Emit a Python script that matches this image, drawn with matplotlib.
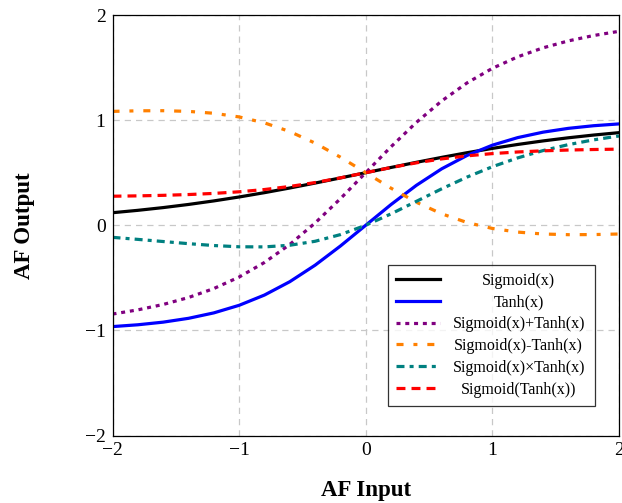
import matplotlib
matplotlib.use("Agg")
import matplotlib.pyplot as plt
from matplotlib.ticker import FuncFormatter

x = [-2.0, -1.8, -1.6, -1.4, -1.2, -1.0, -0.8, -0.6, -0.4, -0.2, 0.0,
     0.2, 0.4, 0.6, 0.8, 1.0, 1.2, 1.4, 1.6, 1.8, 2.0]

sigmoid = [0.1192, 0.1419, 0.1680, 0.1978, 0.2315, 0.2689, 0.3100, 0.3543, 0.4013, 0.4502, 0.5,
           0.5498, 0.5987, 0.6457, 0.6900, 0.7311, 0.7685, 0.8022, 0.8320, 0.8581, 0.8808]
tanh = [-0.9640, -0.9468, -0.9217, -0.8854, -0.8337, -0.7616, -0.6640, -0.5370, -0.3799, -0.1974, 0.0,
        0.1974, 0.3799, 0.5370, 0.6640, 0.7616, 0.8337, 0.8854, 0.9217, 0.9468, 0.9640]
sig_plus_tanh = [-0.8448, -0.8049, -0.7537, -0.6876, -0.6022, -0.4927, -0.3540, -0.1827, 0.0214, 0.2528, 0.5,
                 0.7472, 0.9786, 1.1827, 1.3540, 1.4927, 1.6022, 1.6876, 1.7537, 1.8049, 1.8448]
sig_minus_tanh = [1.0832, 1.0887, 1.0897, 1.0832, 1.0652, 1.0305, 0.9740, 0.8913, 0.7812, 0.6476, 0.5,
                  0.3524, 0.2188, 0.1087, 0.0260, -0.0305, -0.0652, -0.0832, -0.0897, -0.0887, -0.0832]
sig_times_tanh = [-0.1149, -0.1344, -0.1548, -0.1751, -0.1930, -0.2048, -0.2058, -0.1903, -0.1525, -0.0889, 0.0,
                  0.1085, 0.2274, 0.3467, 0.4582, 0.5568, 0.6407, 0.7103, 0.7669, 0.8124, 0.8491]
sig_of_tanh = [0.2761, 0.2795, 0.2846, 0.2921, 0.3029, 0.3183, 0.3398, 0.3689, 0.4062, 0.4508, 0.5,
               0.5492, 0.5938, 0.6311, 0.6602, 0.6817, 0.6971, 0.7079, 0.7154, 0.7205, 0.7239]

labels = ["Sigmoid(x)", "Tanh(x)", "Sigmoid(x)+Tanh(x)", "Sigmoid(x)-Tanh(x)",
          "Sigmoid(x)×Tanh(x)", "Sigmoid(Tanh(x))"]
ticks = [-2, -1, 0, 1, 2]

plt.rcParams['font.family'] = ['Liberation Serif', 'DejaVu Serif']

fig = plt.figure(figsize=(6.22, 5.03), dpi=100)
ax = fig.add_axes([112.5 / 622, 1 - 435.5 / 503, (619 - 112.5) / 622, (435.5 - 15) / 503])

lw = 2.3
ax.plot(x, sigmoid, color='black', lw=lw, label=labels[0])
ax.plot(x, tanh, color='#0000ff', lw=lw, label=labels[1])
ax.plot(x, sig_plus_tanh, color='#800080', lw=lw, linestyle=(0, (1.25, 1.5)), label=labels[2])
ax.plot(x, sig_minus_tanh, color='#ff8000', lw=lw, linestyle=(0, (2.2, 3.1, 1.25, 3.1)), label=labels[3])
ax.plot(x, sig_times_tanh, color='#008080', lw=lw, linestyle=(0, (2.5, 1.6, 1.25, 1.6)), label=labels[4])
ax.plot(x, sig_of_tanh, color='#ff0000', lw=lw, linestyle=(0, (2.8, 1.9)), label=labels[5])

ax.set_xlim(-2, 2)
ax.set_ylim(-2, 2)
ax.set_xticks(ticks)
ax.set_yticks(ticks)
fmt = FuncFormatter(lambda v, p: ("\u2212%d" % abs(v)) if v < 0 else "%d" % v)
ax.xaxis.set_major_formatter(fmt)
ax.yaxis.set_major_formatter(fmt)
ax.tick_params(length=0, labelsize=14, pad=5)
ax.grid(True, color='#c8c8c8', linestyle=(0, (5, 4)), lw=0.9)
for s in ax.spines.values():
    s.set_linewidth(0.9)

ax.set_xlabel("AF Input", fontsize=16.5, fontweight='bold', labelpad=15)
ax.set_ylabel("AF Output", fontsize=16.5, fontweight='bold', labelpad=36)

leg = ax.legend(loc='lower right', bbox_to_anchor=(595 / 622, 1 - 405.5 / 503),
                bbox_transform=fig.transFigure, fontsize=11.5, frameon=True, fancybox=False,
                edgecolor='black', handlelength=2.75, borderpad=0.5, borderaxespad=0,
                labelspacing=0.36, handletextpad=0.9)
leg.get_frame().set_linewidth(0.9)
fig.canvas.draw()
r = fig.canvas.get_renderer()
exts = [t.get_window_extent(r) for t in leg.get_texts()]
cx = (min(e.x0 for e in exts) + max(e.x1 for e in exts)) / 2 - 2
for t, e in zip(leg.get_texts(), exts):
    t.set_visible(False)
    fig.text(cx / fig.bbox.width, (e.y0 + e.y1) / 2 / fig.bbox.height, t.get_text(),
             ha='center', va='center', fontsize=11.5, zorder=10)

fig.savefig("out.png", dpi=100)
